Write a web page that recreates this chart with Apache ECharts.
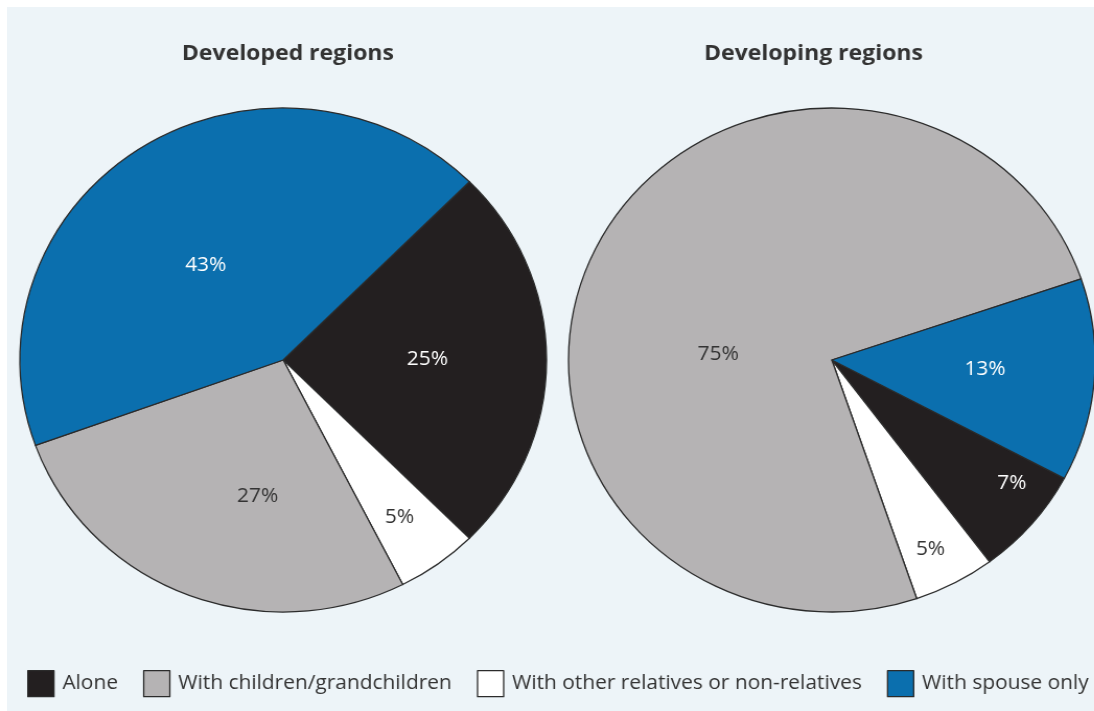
<!DOCTYPE html>
<html>
<head>
<meta charset="utf-8">
<script src="https://cdn.jsdelivr.net/npm/echarts@6/dist/echarts.min.js"></script>
<style>
  html, body { margin: 0; padding: 0; background: #ffffff; width: 1094px; height: 711px; overflow: hidden; }
  #bg { position: absolute; left: 7px; top: 7px; width: 1087px; height: 704px; background: #edf4f8; }
  #chart { position: absolute; left: 0; top: 0; height: 711px; transform-origin: 0 0; }
</style>
</head>
<body>
<div id="bg"></div>
<div id="chart"></div>
<script>
// ---- data ----
const categories = ['Alone', 'With children/grandchildren', 'With other relatives or non-relatives', 'With spouse only'];
const titles = ['Developed regions', 'Developing regions'];
const developed = [25, 27, 5, 43];   // per category, %
const developing = [7, 75, 5, 13];   // per category, %
const sliceOrder = [0, 2, 1, 3];     // clockwise drawing order of categories

// ---- styling ----
const colors = ['#231f20', '#b5b3b4', '#ffffff', '#0b6fae'];
const labelColors = ['#ffffff', '#333333', '#333333', '#ffffff'];
// small nudges of the percentage labels (per pie, per category), as in the source layout
const labelNudges = [
  [[9, -1], [23, 16], [-9, -8], [-5, 14]],
  [[17, -10], [7, 51], [-1, 8], [18, -1]]
];
const FONT = '"Open Sans", "Noto Sans", sans-serif';
const stretch = 1.045;            // reference is slightly wider than tall
const W = Math.round(1094 / stretch);
const el = document.getElementById('chart');
el.style.width = W + 'px';
el.style.transform = 'scaleX(' + stretch + ')';

const R = 252;
const centers = [[271, 360], [796, 360]];
const titleCenters = [275.5, 778.5];
const startAngles = [45, -28];
const seriesValues = [developed, developing];

function buildData(vals, k, small) {
  return sliceOrder.map(i => ({
    name: categories[i],
    value: vals[i],
    itemStyle: small ? { color: 'transparent', borderWidth: 0 } : { color: colors[i] },
    label: { show: small ? vals[i] < 10 : vals[i] >= 10, color: labelColors[i], offset: labelNudges[k][i] }
  }));
}

const series = [];
seriesValues.forEach((vals, k) => {
  series.push({
    type: 'pie',
    center: centers[k],
    radius: [0, R],
    startAngle: startAngles[k],
    clockwise: true,
    avoidLabelOverlap: false,
    silent: true,
    itemStyle: { borderColor: '#2b2b2b', borderWidth: 1.3 },
    label: { position: 'inside', formatter: '{c}%', fontSize: 20, fontFamily: FONT },
    labelLine: { show: false },
    emphasis: { disabled: true },
    data: buildData(vals, k, false)
  });
});
seriesValues.forEach((vals, k) => {
  series.push({
    type: 'pie',
    center: centers[k],
    radius: [R * 0.6, R],
    startAngle: startAngles[k],
    clockwise: true,
    avoidLabelOverlap: false,
    silent: true,
    label: { position: 'inside', formatter: '{c}%', fontSize: 20, fontFamily: FONT },
    labelLine: { show: false },
    emphasis: { disabled: true },
    data: buildData(vals, k, true)
  });
});

const chart = echarts.init(el, null, { renderer: 'canvas' });
chart.setOption({
  backgroundColor: 'transparent',
  animation: false,
  title: titles.map((t, k) => ({
    text: t,
    left: titleCenters[k],
    top: 43,
    padding: 0,
    textAlign: 'center',
    textStyle: { fontFamily: FONT, fontSize: 22, fontWeight: 'bold', color: '#333333' }
  })),
  legend: {
    data: categories,
    left: 26,
    top: 670,
    padding: 0,
    itemWidth: 25,
    itemHeight: 26,
    itemGap: 24,
    icon: 'rect',
    itemStyle: { borderColor: '#2b2b2b', borderWidth: 1.3 },
    textStyle: { fontFamily: FONT, fontSize: 20, color: '#333333', padding: [0, 0, 0, 3] },
    selectedMode: false
  },
  series: series
});
</script>
</body>
</html>
